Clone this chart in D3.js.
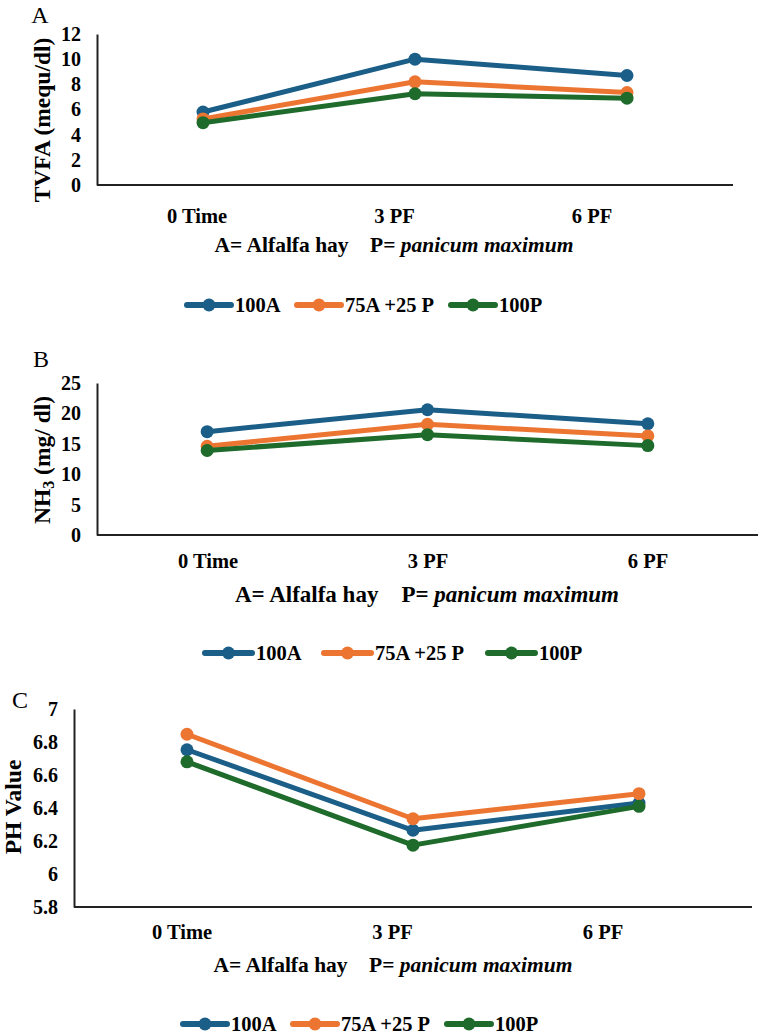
<!DOCTYPE html>
<html>
<head>
  <meta charset="utf-8"><script src="https://d3js.org/d3.v7.min.js"></script>
  <style>
    body { margin: 0; background: white; }
    text { font-family: "Liberation Serif", "Times New Roman", serif; fill: #000; }
  </style>
</head>
<body>
  <svg id="mychart" width="762" height="1035" style="background: white"></svg>
<script>
  // categories and series
  const categories = ["0 Time", "3 PF", "6 PF"]
  const seriesNames = ["100A", "75A +25 P", "100P"]
  const colors = ["#1b5e87", "#ec7532", "#1e6b2b"]

  // A: TVFA (mequ/dl)
  const tvfa100A = [5.8, 10.0, 8.7]
  const tvfa75A  = [5.25, 8.2, 7.35]
  const tvfa100P = [4.95, 7.25, 6.9]
  const tvfaTicks = [0, 2, 4, 6, 8, 10, 12]

  // B: NH3 (mg/ dl)
  const nh3100A = [17.0, 20.6, 18.3]
  const nh375A  = [14.6, 18.2, 16.3]
  const nh3100P = [13.9, 16.5, 14.7]
  const nh3Ticks = [0, 5, 10, 15, 20, 25]

  // C: PH value
  const ph100A = [6.753, 6.265, 6.43]
  const ph75A  = [6.847, 6.335, 6.487]
  const ph100P = [6.68, 6.175, 6.41]
  const phTicks = [5.8, 6, 6.2, 6.4, 6.6, 6.8, 7]

  const svg = d3.select("#mychart")

  const panels = [
    {letter: "A", lx: 40, ly: 15, left: 97, right: 733, top: 34, bottom: 185,
     ticks: tvfaTicks, series: [tvfa100A, tvfa75A, tvfa100P], tickSize: 20,
     title: "TVFA (mequ/dl)", titleY: 120, labelRange: [197, 592], labelY: 216,
     subX: 394, subY: 245, subSize: 21.5, legY: 305, legX: [187, 297, 451], legLen: 44},
    {letter: "B", lx: 41, ly: 359, left: 97, right: 758, top: 383, bottom: 535,
     ticks: nh3Ticks, series: [nh3100A, nh375A, nh3100P], tickSize: 20,
     title: "NH3", titleY: 460, labelRange: [208, 648], labelY: 561,
     subX: 427, subY: 594, subSize: 23, legY: 653, legX: [205, 324, 488], legLen: 47},
    {letter: "C", lx: 20, ly: 700, left: 74, right: 752, top: 709, bottom: 907,
     ticks: phTicks, series: [ph100A, ph75A, ph100P], tickSize: 20,
     title: "PH Value", titleY: 807, titleX: 13, labelRange: [182, 603], labelY: 932,
     subX: 393, subY: 965, subSize: 21.5, legY: 1024, legX: [183, 293, 447], legLen: 44}
  ]

  panels.forEach(p => {
    const g = svg.append("g")

    const x = d3.scaleBand().domain(categories).range([p.left, p.right])
    const xl = d3.scalePoint().domain(categories).range(p.labelRange)
    const y = d3.scaleLinear().domain(d3.extent(p.ticks)).range([p.bottom, p.top])

    // panel letter
    g.append("text").attr("x", p.lx).attr("y", p.ly)
      .attr("text-anchor", "middle").attr("dominant-baseline", "central")
      .attr("font-size", 24).text(p.letter)

    // y axis
    g.append("g")
      .attr("transform", `translate(${p.left},0)`)
      .call(d3.axisLeft(y).tickValues(p.ticks).tickSize(0).tickPadding(16)
        .tickFormat(d3.format("~g")))
      .call(g => g.select(".domain").attr("stroke", "#222").attr("stroke-width", 2))
      .call(g => g.selectAll(".tick text")
        .attr("font-family", "Liberation Serif").attr("font-weight", "bold")
        .attr("font-size", p.tickSize).attr("fill", "#000"))

    // x axis line
    g.append("line")
      .attr("x1", p.left).attr("x2", p.right)
      .attr("y1", y(p.ticks[0])).attr("y2", y(p.ticks[0]))
      .attr("stroke", "#222").attr("stroke-width", 2)

    // category labels
    g.selectAll(".cat").data(categories).join("text")
      .attr("x", d => xl(d)).attr("y", p.labelY)
      .attr("text-anchor", "middle").attr("dominant-baseline", "central")
      .attr("font-weight", "bold").attr("font-size", 20.5).text(d => d)

    // y title
    const tx = p.titleX || 42
    const t = g.append("text")
      .attr("transform", `translate(${tx},${p.titleY}) rotate(-90)`)
      .attr("text-anchor", "middle").attr("dominant-baseline", "central")
      .attr("font-weight", "bold").attr("font-size", 23.5)
    if (p.title === "NH3") {
      t.append("tspan").text("NH")
      t.append("tspan").attr("font-size", 16).attr("dy", 6).text("3")
      t.append("tspan").attr("dy", -6).text(" (mg/ dl)")
    } else {
      t.text(p.title)
    }

    // subtitle
    const s = g.append("text")
      .attr("x", p.subX).attr("y", p.subY)
      .attr("text-anchor", "middle").attr("dominant-baseline", "central")
      .attr("font-weight", "bold").attr("font-size", p.subSize)
      .attr("xml:space", "preserve")
    s.append("tspan").text("A= Alfalfa hay    P= ")
    s.append("tspan").attr("font-style", "italic").text("panicum maximum")

    // lines
    const line = d3.line()
      .x((d, i) => x(categories[i]) + x.bandwidth() / 2)
      .y(d => y(d))

    p.series.forEach((vals, si) => {
      g.append("path").datum(vals)
        .attr("fill", "none").attr("stroke", colors[si]).attr("stroke-width", 5)
        .attr("stroke-linejoin", "round").attr("d", line)
      g.selectAll(null).data(vals).join("circle")
        .attr("cx", (d, i) => x(categories[i]) + x.bandwidth() / 2)
        .attr("cy", d => y(d)).attr("r", 6.5).attr("fill", colors[si])
    })

    // legend
    const lg = g.selectAll(".leg").data(seriesNames).join("g")
      .attr("transform", (d, i) => `translate(${p.legX[i]},${p.legY})`)
    lg.append("line").attr("x1", 0).attr("x2", p.legLen)
      .attr("stroke", (d, i) => colors[i]).attr("stroke-width", 6)
      .attr("stroke-linecap", "round")
    lg.append("circle").attr("cx", p.legLen / 2).attr("r", 6.5)
      .attr("fill", (d, i) => colors[i])
    lg.append("text").attr("x", p.legLen + 4).attr("dominant-baseline", "central")
      .attr("font-weight", "bold").attr("font-size", 20.5).text(d => d)
  })
</script>
</body>
</html>
